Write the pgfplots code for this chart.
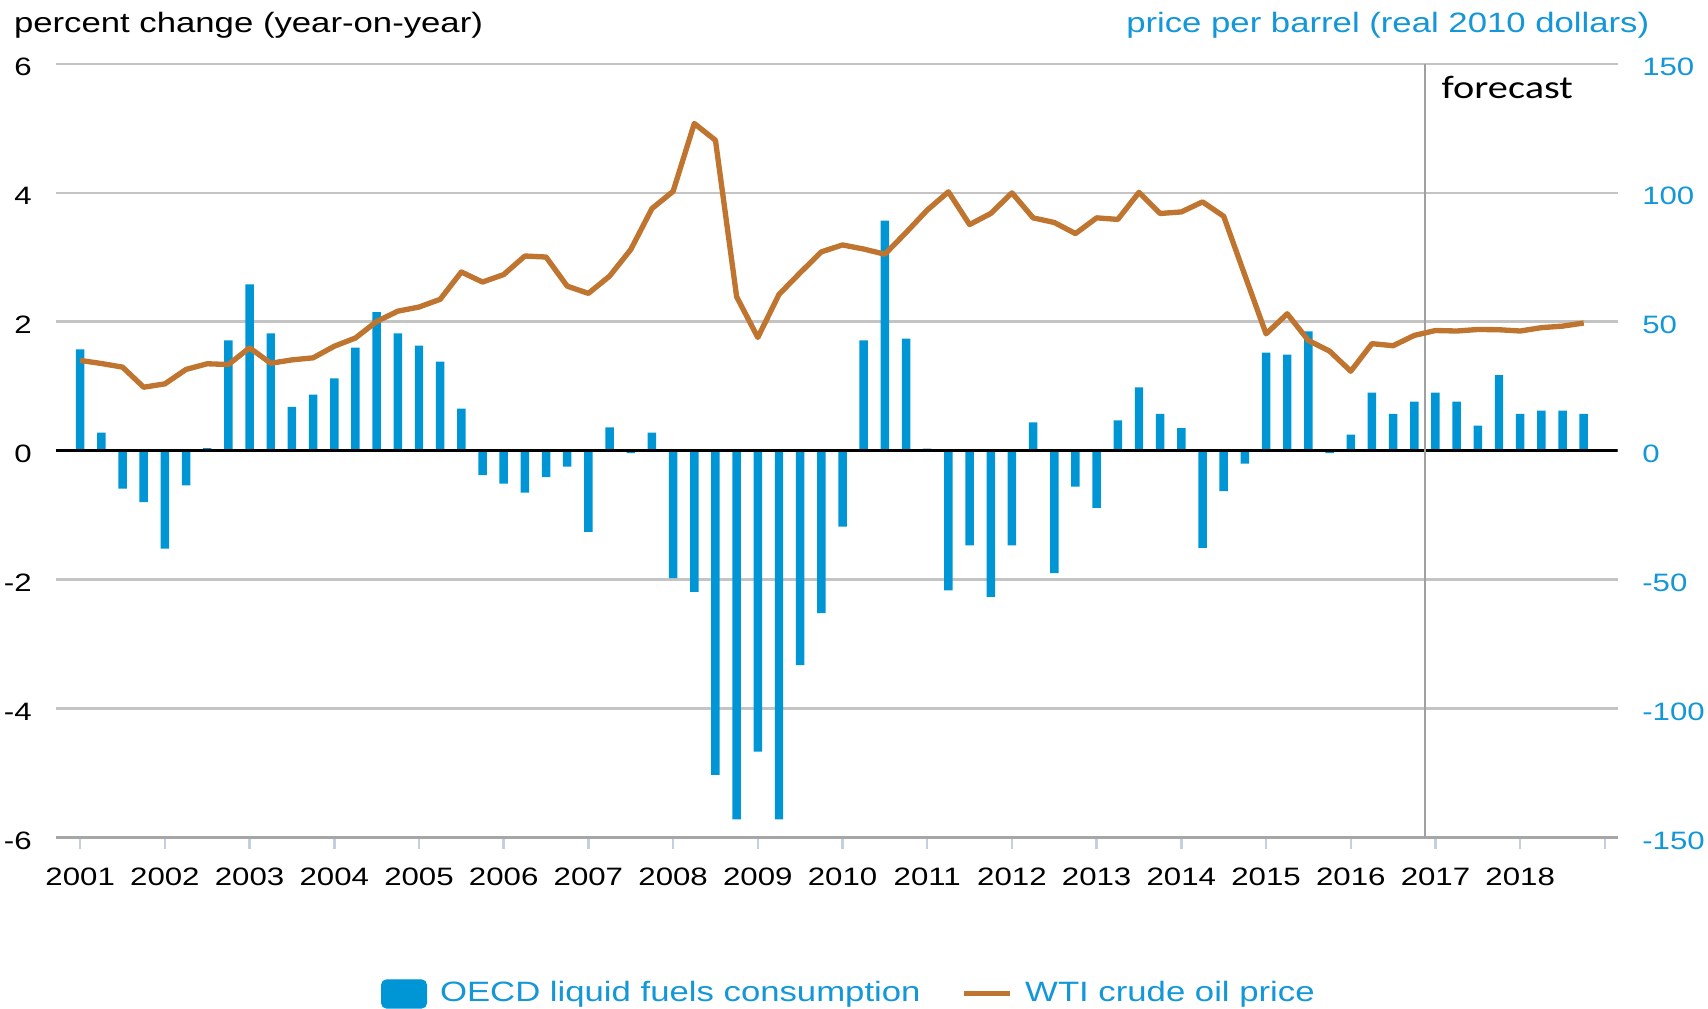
\documentclass[border=0pt]{standalone}
\usepackage{pgfplots}
\pgfplotsset{compat=1.18}
\usepackage{pgfplotstable}
\usepackage{fontspec}
\setmainfont{Liberation Sans}[FakeStretch=1.24]
\newfontfamily\fcfont{Carlito}[FakeStretch=1.24]
\definecolor{barblue}{HTML}{0096D6}
\definecolor{textblue}{HTML}{1497D8}
\definecolor{wti}{HTML}{BF7530}
\definecolor{gridgray}{HTML}{C4C4C4}
\definecolor{axisgray}{HTML}{A6A6A6}
\definecolor{tickblue}{HTML}{C2D0E0}
\definecolor{fcgray}{HTML}{A0A0A0}

\pgfplotstableread{
x y
2001.00 1.57
2001.25 0.28
2001.50 -0.59
2001.75 -0.80
2002.00 -1.52
2002.25 -0.54
2002.50 0.04
2002.75 1.71
2003.00 2.58
2003.25 1.82
2003.50 0.68
2003.75 0.87
2004.00 1.12
2004.25 1.60
2004.50 2.15
2004.75 1.82
2005.00 1.63
2005.25 1.38
2005.50 0.65
2005.75 -0.38
2006.00 -0.51
2006.25 -0.65
2006.50 -0.41
2006.75 -0.25
2007.00 -1.26
2007.25 0.36
2007.50 -0.04
2007.75 0.28
2008.00 -1.98
2008.25 -2.19
2008.50 -5.03
2008.75 -5.72
2009.00 -4.67
2009.25 -5.72
2009.50 -3.33
2009.75 -2.52
2010.00 -1.18
2010.25 1.71
2010.50 3.57
2010.75 1.74
2011.00 0.03
2011.25 -2.17
2011.50 -1.47
2011.75 -2.27
2012.00 -1.47
2012.25 0.44
2012.50 -1.90
2012.75 -0.56
2013.00 -0.89
2013.25 0.47
2013.50 0.98
2013.75 0.57
2014.00 0.35
2014.25 -1.51
2014.50 -0.63
2014.75 -0.20
2015.00 1.52
2015.25 1.49
2015.50 1.85
2015.75 -0.04
2016.00 0.25
2016.25 0.90
2016.50 0.57
2016.75 0.76
2017.00 0.90
2017.25 0.76
2017.50 0.39
2017.75 1.17
2018.00 0.57
2018.25 0.62
2018.50 0.62
2018.75 0.57
}\oecd

\pgfplotstableread{
x y
2001.00 35.0
2001.25 33.8
2001.50 32.4
2001.75 24.6
2002.00 25.9
2002.25 31.5
2002.50 33.7
2002.75 33.4
2003.00 39.9
2003.25 33.9
2003.50 35.2
2003.75 36.0
2004.00 40.5
2004.25 43.7
2004.50 50.1
2004.75 54.1
2005.00 55.7
2005.25 58.7
2005.50 69.3
2005.75 65.4
2006.00 68.3
2006.25 75.5
2006.50 75.1
2006.75 63.8
2007.00 61.0
2007.25 67.7
2007.50 78.0
2007.75 93.9
2008.00 100.6
2008.25 126.9
2008.50 120.4
2008.75 59.7
2009.00 43.9
2009.25 60.6
2009.50 69.0
2009.75 77.1
2010.00 79.8
2010.25 78.2
2010.50 76.2
2010.75 84.6
2011.00 93.3
2011.25 100.4
2011.50 87.7
2011.75 92.0
2012.00 100.0
2012.25 90.3
2012.50 88.5
2012.75 84.2
2013.00 90.3
2013.25 89.7
2013.50 100.2
2013.75 92.0
2014.00 92.6
2014.25 96.5
2014.50 90.9
2014.75 68.0
2015.00 45.3
2015.25 53.1
2015.50 42.7
2015.75 38.6
2016.00 30.8
2016.25 41.5
2016.50 40.7
2016.75 44.7
2017.00 46.6
2017.25 46.4
2017.50 47.0
2017.75 46.9
2018.00 46.4
2018.25 47.7
2018.50 48.3
2018.75 49.5
}\wtitab

\begin{document}
\begin{tikzpicture}
% fixed page frame
\path (-16.68pt,-51.51pt) rectangle (495.72pt,251.19pt);

\begin{axis}[
  at={(0,0)}, anchor=south west,
  width=468.6pt, height=232pt, scale only axis,
  xmin=2000.71, xmax=2019.15, ymin=-6, ymax=6,
  enlargelimits=false,
  axis x line*=bottom, axis y line*=left,
  x axis line style={draw=axisgray, line width=0.85pt, -},
  y axis line style={draw=none},
  xtick={2001,2002,2003,2004,2005,2006,2007,2008,2009,2010,2011,2012,2013,2014,2015,2016,2017,2018,2019},
  xticklabels={2001,2002,2003,2004,2005,2006,2007,2008,2009,2010,2011,2012,2013,2014,2015,2016,2017,2018,{}},
  ytick={-6,-4,-2,0,2,4,6},
  yticklabels={-6,-4,-2,0,2,4,6},
  ymajorgrids,
  grid style={gridgray, line width=0.75pt},
  tick align=outside,
  major tick length=3.4pt,
  xtick style={tickblue, line width=0.75pt},
  ytick style={draw=none},
  tick label style={font=\fontsize{7.55}{9}\selectfont},
  xticklabel style={anchor=north, inner sep=0pt, yshift=-5.6pt},
  yticklabel style={anchor=east, inner sep=0pt, xshift=-3.6pt, yshift=-1pt},
  ybar, bar width=0.1,
]
\addplot[fill=barblue, draw=none] table[x=x, y=y] {\oecd};
\draw[black, line width=0.9pt] (axis cs:2000.71,0) -- (axis cs:2019.15,0);
\draw[fcgray, line width=0.5pt] (axis cs:2016.875,-6) -- (axis cs:2016.875,6);
\node[anchor=base west, inner sep=0pt, font=\fcfont\fontsize{9.75}{12}\selectfont] at (axis cs:2017.066,5.47) {forecast};
\end{axis}

\begin{axis}[
  at={(0,0)}, anchor=south west,
  width=468.6pt, height=232pt, scale only axis,
  xmin=2000.71, xmax=2019.15, ymin=-150, ymax=150,
  enlargelimits=false,
  axis x line=none, axis y line*=right,
  y axis line style={draw=none},
  xtick=\empty,
  ytick={-150,-100,-50,0,50,100,150},
  yticklabels={-150,-100,-50,0,50,100,150},
  ytick style={draw=none},
  tick align=inside,
  yticklabel style={font=\fontsize{7.55}{9}\selectfont, text=textblue, anchor=west, inner sep=0pt, xshift=7.2pt, yshift=-1pt},
  legend columns=2,
  legend style={draw=none, fill=none, at={(0.5072,-0.2026)}, anchor=center,
    font=\fontsize{8.4}{10}\selectfont, text=textblue,
    inner sep=0pt, outer sep=0pt,
    nodes={inner sep=0pt},
    /tikz/every odd column/.append style={column sep=3.9pt},
    /tikz/every even column/.append style={column sep=12.2pt}},
]
\addlegendimage{legend image code/.code={\fill[barblue, rounded corners=1.5pt] (0pt,-4.2pt) rectangle (13.4pt,4.2pt);}}
\addlegendentry{OECD liquid fuels consumption}
\addplot[wti, line width=1.6pt, line join=round,
  legend image code/.code={\draw[wti, line width=1.5pt] (0pt,0pt) -- (13.8pt,0pt);}] table[x=x, y=y] {\wtitab};
\addlegendentry{WTI crude oil price}
\end{axis}

\node[anchor=west, inner sep=0pt, font=\fontsize{8.4}{10}\selectfont] at (-12.66pt,243.5pt) {percent change (year-on-year)};
\node[anchor=east, inner sep=0pt, font=\fontsize{8.4}{10}\selectfont, text=textblue] at (478.3pt,243.5pt) {price per barrel (real 2010 dollars)};
\end{tikzpicture}
\end{document}
